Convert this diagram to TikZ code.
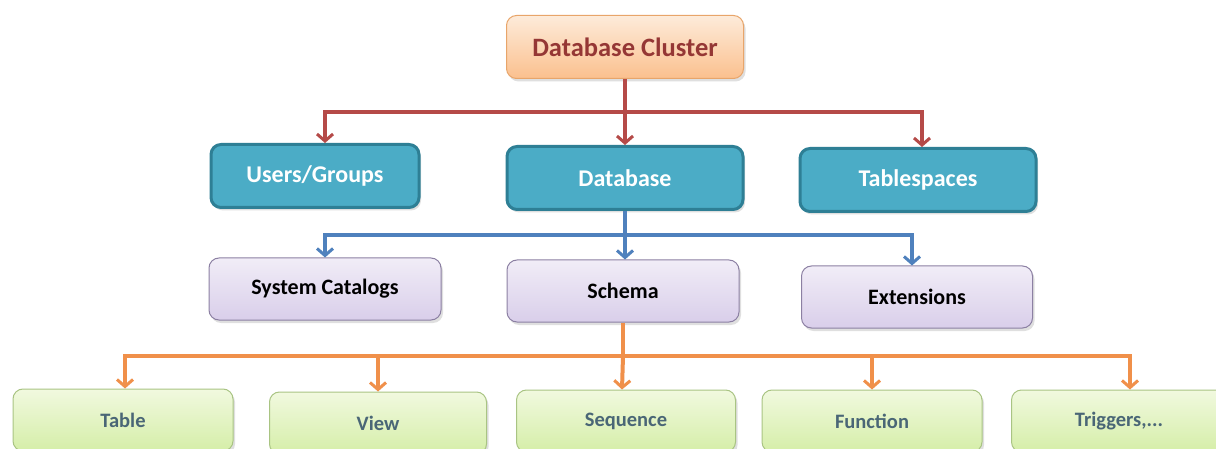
\documentclass[tikz,border=0pt]{standalone}
\usepackage{fontspec}
\setmainfont{Carlito}
\usetikzlibrary{arrows.meta,shadows}

\definecolor{clusterfg}{HTML}{953735}
\definecolor{clustertop}{HTML}{FDEBDA}
\definecolor{clusterbot}{HTML}{FBC08E}
\definecolor{clusterline}{HTML}{E8A56A}
\definecolor{dbfill}{HTML}{4BACC6}
\definecolor{dbline}{HTML}{2E7F95}
\definecolor{schtop}{HTML}{F1EDF7}
\definecolor{schbot}{HTML}{D9CEEA}
\definecolor{schline}{HTML}{8C80A3}
\definecolor{objtop}{HTML}{F1F9DF}
\definecolor{objbot}{HTML}{D5EEA8}
\definecolor{objline}{HTML}{A9C483}
\definecolor{objfg}{HTML}{4A6676}
\definecolor{redln}{HTML}{B54A48}
\definecolor{blueln}{HTML}{4F81BD}
\definecolor{orangeln}{HTML}{F0904A}

\begin{document}
\begin{tikzpicture}[x=1pt, y=-1pt,
    every node/.style={align=center, rounded corners=10pt, font=\bfseries,
        drop shadow={opacity=0.25, shadow xshift=2pt, shadow yshift=-3pt}},
    clusterbox/.style={minimum width=237pt, minimum height=63pt, draw=clusterline, line width=1pt,
        top color=clustertop, bottom color=clusterbot, text=clusterfg, font=\fontsize{26.5}{30}\selectfont\bfseries},
    topbox/.style={minimum width=236pt, minimum height=63pt, draw=dbline, line width=3pt,
        fill=dbfill, text=white, font=\fontsize{24}{28}\selectfont\bfseries},
    midbox/.style={minimum width=232pt, minimum height=62pt, draw=schline, line width=1pt,
        top color=schtop, bottom color=schbot, text=black, font=\fontsize{22}{26}\selectfont\bfseries},
    objbox/.style={minimum width=220pt, minimum height=62pt, draw=objline, line width=1pt,
        top color=objtop, bottom color=objbot, text=objfg, font=\fontsize{20.5}{24}\selectfont\bfseries},
    link/.style={line width=4pt, -{Straight Barb[length=7pt, width=16pt, line width=3pt]}},
    bar/.style={line width=4pt}]
    \clip (0,0) rectangle (1216,449);
    \fill[white] (0,0) rectangle (1216,449);

    \node[clusterbox] (cluster) at (625,47) {Database Cluster};

    \node[topbox, minimum width=208pt] (users) at (315,176) {Users/Groups};
    \node[topbox] (db) at (625,178) {Database};
    \node[topbox] (tblspc) at (918,180) {Tablespaces};

    \node[midbox] (catalogs) at (325,289) {System Catalogs};
    \node[midbox] (schema) at (623,291) {Schema};
    \node[midbox, minimum width=231pt] (ext) at (917,297) {Extensions};

    \node[objbox] (table) at (123,420) {Table};
    \node[objbox, minimum width=217pt] (view) at (378,423) {View};
    \node[objbox, minimum width=219pt] (seq) at (626,421) {Sequence};
    \node[objbox] (func) at (872,421) {Function};
    \node[objbox, minimum width=215pt, anchor=west] (trig) at (1011,421) {Triggers,...};

    \coordinate (rj) at (625,112);
    \draw[bar, redln] (cluster.south) -- (rj);
    \draw[link, redln] (rj) -| ([xshift=10pt]users.north);
    \draw[link, redln] (rj) -- (db.north);
    \draw[link, redln] (rj) -| ([xshift=4pt]tblspc.north);

    \coordinate (bj) at (625,235);
    \draw[bar, blueln] (db.south) -- (bj);
    \draw[link, blueln] (bj) -| (catalogs.north);
    \draw[link, blueln] (bj) -- ([xshift=2pt]schema.north);
    \draw[link, blueln] (bj) -| ([xshift=-5pt]ext.north);

    \coordinate (oj) at (623,356);
    \draw[bar, orangeln] (schema.south) -- (oj);
    \draw[link, orangeln] (oj) -| ([xshift=2pt]table.north);
    \draw[link, orangeln] (oj) -| (view.north);
    \draw[link, orangeln] (oj) -- ([xshift=-4pt]seq.north);
    \draw[link, orangeln] (oj) -| (func.north);
    \draw[link, orangeln] (oj) -| ([xshift=11pt]trig.north);
\end{tikzpicture}
\end{document}
